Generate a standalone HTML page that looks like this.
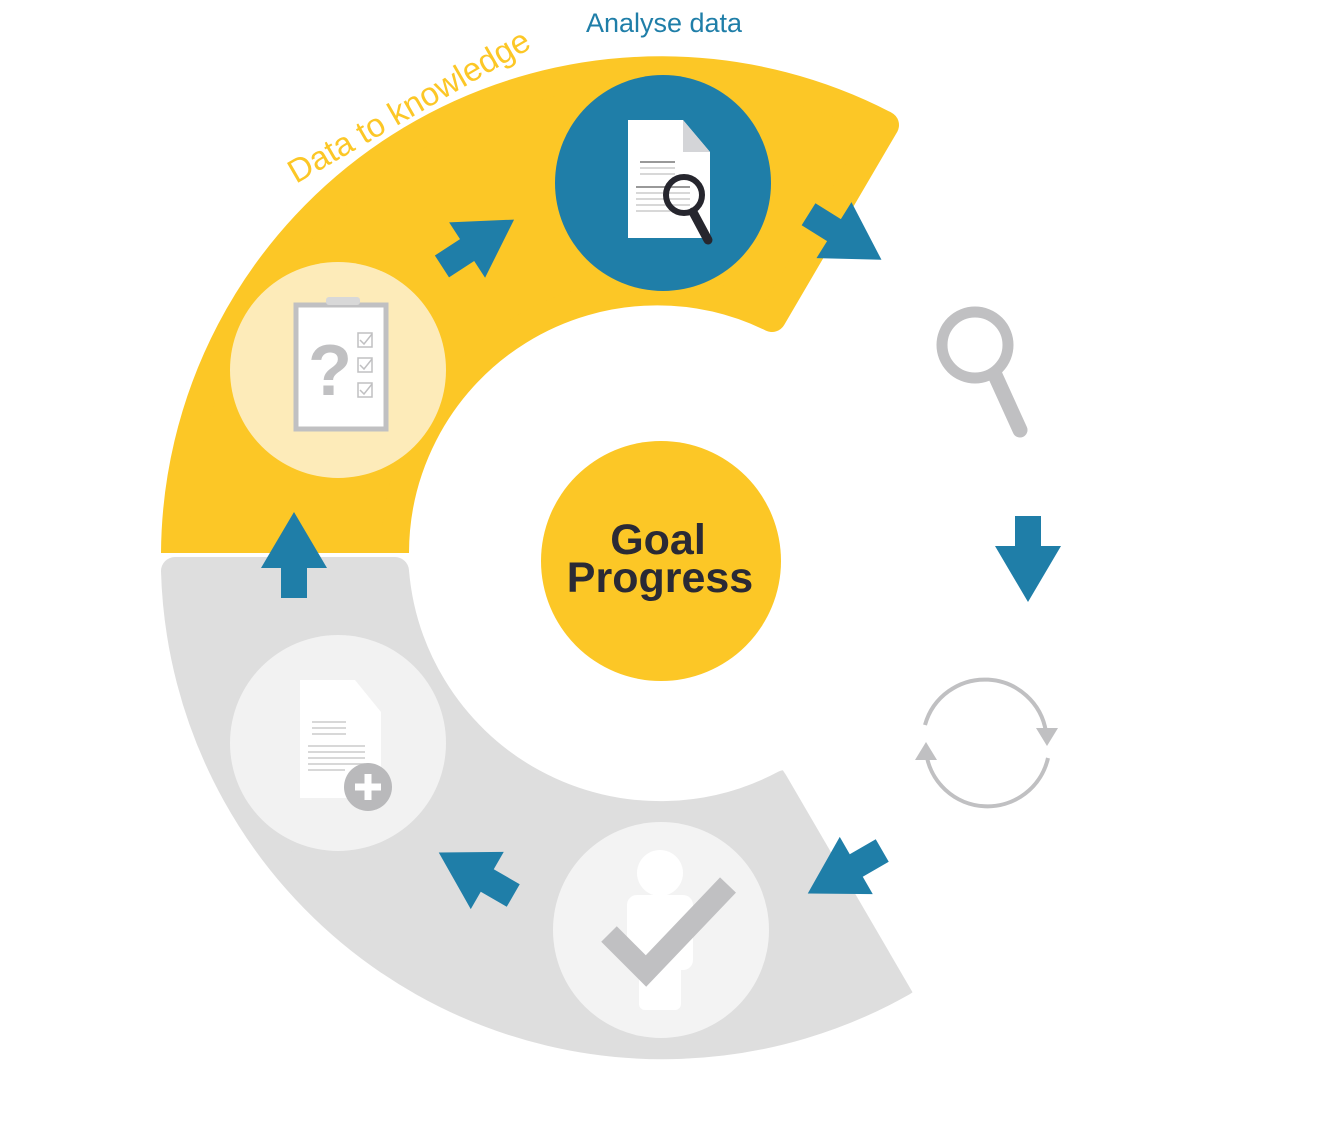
<!DOCTYPE html>
<html><head><meta charset="utf-8"><style>html,body{margin:0;padding:0;background:#fff}svg{display:block}</style></head>
<body>
<svg width="1329" height="1134" viewBox="0 0 1329 1134" xmlns="http://www.w3.org/2000/svg" font-family="Liberation Sans, Arial, sans-serif">
<defs>
<g id="arr"><polygon points="0,-43 33,13 13,13 13,43 -13,43 -13,13 -33,13" fill="#1f7ea8"/></g>
</defs>
<!-- yellow arc -->
<path d="M175,553 A486,486 0 0 1 885,125 L772,318 A262,262 0 0 0 395,553 Z" fill="#fcc726" stroke="#fcc726" stroke-width="28" stroke-linejoin="round"/>
<rect x="140" y="553" width="300" height="40" fill="#fff"/>
<!-- gray arc -->
<path d="M175,571 A488,488 0 0 0 903,982 L785,784 A266,266 0 0 1 395,571 Z" fill="#dedede" stroke="#dedede" stroke-width="28" stroke-linejoin="round"/>
<polygon points="776,760 1000,760 1000,1060 952,1060 786,775" fill="#fff"/>
<!-- circles -->
<circle cx="338" cy="370" r="108" fill="#fdebb9"/>
<circle cx="663" cy="183" r="108" fill="#1f7ea8"/>
<circle cx="661" cy="561" r="120" fill="#fcc726"/>
<circle cx="338" cy="743" r="108" fill="#f2f2f2"/>
<circle cx="661" cy="930" r="108" fill="#f3f3f3"/>
<!-- texts -->
<text x="664" y="32" font-size="27" fill="#1f7ea8" text-anchor="middle">Analyse data</text>
<text x="0" y="0" font-size="33" fill="#fcc726" transform="translate(296,184) rotate(-30)">Data to knowledge</text>
<text x="658" y="554" font-size="43" font-weight="bold" fill="#2a2a35" text-anchor="middle">Goal</text>
<text x="660" y="592" font-size="43" font-weight="bold" fill="#2a2a35" text-anchor="middle">Progress</text>
<!-- arrows -->
<use href="#arr" transform="translate(294,555)"/>
<use href="#arr" transform="translate(1028,559) rotate(180)"/>
<use href="#arr" transform="translate(478,243) rotate(57)"/>
<use href="#arr" transform="translate(845,237) rotate(122)"/>
<use href="#arr" transform="translate(845,872) rotate(240)"/>
<use href="#arr" transform="translate(476,874) rotate(-60)"/>
<!-- clipboard -->
<rect x="296" y="305" width="90" height="124" fill="#fff" stroke="#c0c0c2" stroke-width="5"/>
<rect x="326" y="297" width="34" height="8" rx="3" fill="#d8d8d8"/>
<text x="330" y="395" font-size="72" font-weight="bold" fill="#c0c0c2" text-anchor="middle">?</text>
<g fill="none" stroke="#c0c0c2" stroke-width="1.5">
<rect x="358" y="333" width="14" height="14"/><rect x="358" y="358" width="14" height="14"/><rect x="358" y="383" width="14" height="14"/>
<path d="M360,340 l4,4 l8,-10 M360,365 l4,4 l8,-10 M360,390 l4,4 l8,-10"/>
</g>
<!-- blue doc -->
<path d="M628,120 L683,120 L710,152 L710,238 L628,238 Z" fill="#fff"/>
<path d="M683,120 L683,152 L710,152 Z" fill="#d4d5d8"/>
<g stroke="#999" stroke-width="2"><line x1="640" y1="162" x2="675" y2="162"/><line x1="636" y1="187" x2="690" y2="187"/></g>
<g stroke="#ccc" stroke-width="1.5"><line x1="640" y1="168" x2="675" y2="168"/><line x1="640" y1="174" x2="675" y2="174"/><line x1="636" y1="193" x2="690" y2="193"/><line x1="636" y1="199" x2="690" y2="199"/><line x1="636" y1="205" x2="690" y2="205"/><line x1="636" y1="211" x2="690" y2="211"/></g>
<circle cx="684" cy="195" r="18" fill="none" stroke="#26262e" stroke-width="6"/>
<line x1="693" y1="212" x2="708" y2="240" stroke="#26262e" stroke-width="9" stroke-linecap="round"/>
<!-- gray magnifier -->
<circle cx="975" cy="345" r="33" fill="none" stroke="#c0c0c2" stroke-width="11"/>
<line x1="995" y1="375" x2="1020" y2="430" stroke="#c0c0c2" stroke-width="15" stroke-linecap="round"/>
<!-- refresh -->
<path d="M925,725 A62,62 0 0 1 1046,732" fill="none" stroke="#c0c0c2" stroke-width="4"/>
<path d="M1048,758 A62,62 0 0 1 926,752" fill="none" stroke="#c0c0c2" stroke-width="4"/>
<polygon points="1036,728 1058,728 1047,746" fill="#c0c0c2"/>
<polygon points="915,760 937,760 926,742" fill="#c0c0c2"/>
<!-- gray doc plus -->
<path d="M300,680 L355,680 L381,712 L381,798 L300,798 Z" fill="#fff"/>
<g stroke="#ccc" stroke-width="1.5"><line x1="312" y1="722" x2="346" y2="722"/><line x1="312" y1="728" x2="346" y2="728"/><line x1="312" y1="734" x2="346" y2="734"/><line x1="308" y1="746" x2="365" y2="746"/><line x1="308" y1="752" x2="365" y2="752"/><line x1="308" y1="758" x2="365" y2="758"/><line x1="308" y1="764" x2="365" y2="764"/><line x1="308" y1="770" x2="345" y2="770"/></g>
<circle cx="368" cy="787" r="24" fill="#b9b9bb"/>
<path d="M368,774 V800 M355,787 H381" stroke="#fff" stroke-width="7"/>
<!-- person check -->
<circle cx="660" cy="873" r="23" fill="#fff"/>
<rect x="627" y="895" width="66" height="75" rx="10" fill="#fff"/>
<rect x="639" y="930" width="42" height="80" rx="6" fill="#fff"/>
<polyline points="609,934 646,971 728,885" fill="none" stroke="#c0c0c2" stroke-width="22"/>
</svg>
</body></html>
